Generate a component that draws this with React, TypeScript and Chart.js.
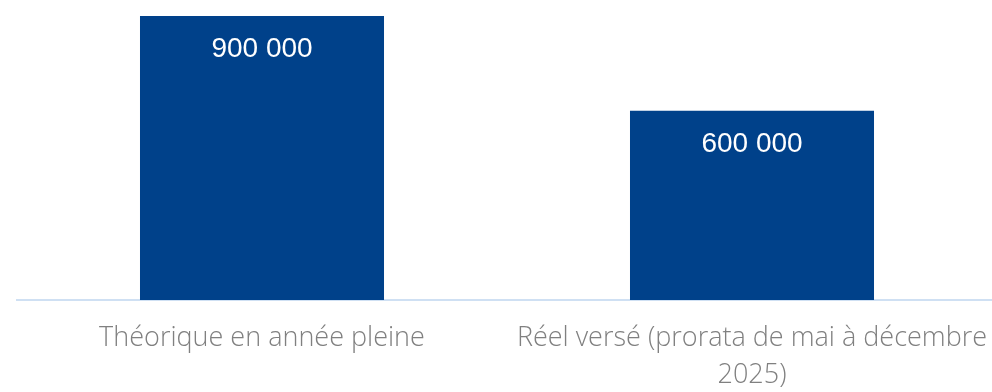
import React, { useEffect, useRef } from "react";
import { Chart, registerables } from "chart.js";

Chart.register(...registerables);

const categories: (string | string[])[] = [
  "Théorique en année pleine",
  ["Réel versé (prorata de mai à décembre", "2025)"],
];
const values: number[] = [900000, 600000];
const barColor = "#00418a";

const formatValue = (v: number) =>
  Math.round(v)
    .toString()
    .replace(/\B(?=(\d{3})+(?!\d))/g, " ");

const valueLabels = {
  id: "valueLabels",
  afterDatasetsDraw(chart: any) {
    const ctx = chart.ctx;
    const meta = chart.getDatasetMeta(0);
    ctx.save();
    ctx.font = "28px 'Liberation Sans', Arial, sans-serif";
    ctx.fillStyle = "#ffffff";
    ctx.textAlign = "center";
    ctx.textBaseline = "alphabetic";
    meta.data.forEach((bar: any, i: number) => {
      ctx.fillText(formatValue(values[i]), bar.x, bar.y + 41);
    });
    ctx.restore();
  },
};

export default function App() {
  const ref = useRef<HTMLCanvasElement | null>(null);
  useEffect(() => {
    if (!ref.current) return;
    const chart = new Chart(ref.current, {
      type: "bar",
      data: {
        labels: categories as any,
        datasets: [
          {
            data: values,
            backgroundColor: barColor,
            borderWidth: 0,
            categoryPercentage: 1,
            barPercentage: 0.498,
          },
        ],
      },
      options: {
        animation: false,
        responsive: false,
        maintainAspectRatio: false,
        layout: { padding: { left: 17, right: 13, top: 16, bottom: 0 } },
        plugins: { legend: { display: false }, tooltip: { enabled: false } },
        scales: {
          x: {
            grid: { display: false, drawTicks: false },
            border: { display: true, color: "#cfe0f3", width: 2 },
            ticks: {
              color: "#808080",
              padding: 20,
              maxRotation: 0,
              autoSkip: false,
              font: {
                family: "'Open Sans', sans-serif",
                size: 27,
                weight: "300",
                lineHeight: 1.37,
              },
            },
            afterFit: (scale: any) => {
              scale.height = 92;
              scale.paddingLeft = 0;
              scale.paddingRight = 0;
            },
          },
          y: {
            display: false,
            min: 0,
            max: 900000,
          },
        },
      },
      plugins: [valueLabels],
    });
    return () => chart.destroy();
  }, []);
  return (
    <div
      style={{
        position: "fixed",
        left: 0,
        top: 0,
        width: 992,
        height: 392,
        overflow: "hidden",
        background: "#ffffff",
      }}
    >
      <canvas ref={ref} width={1010} height={392} style={{ display: "block" }} />
    </div>
  );
}
